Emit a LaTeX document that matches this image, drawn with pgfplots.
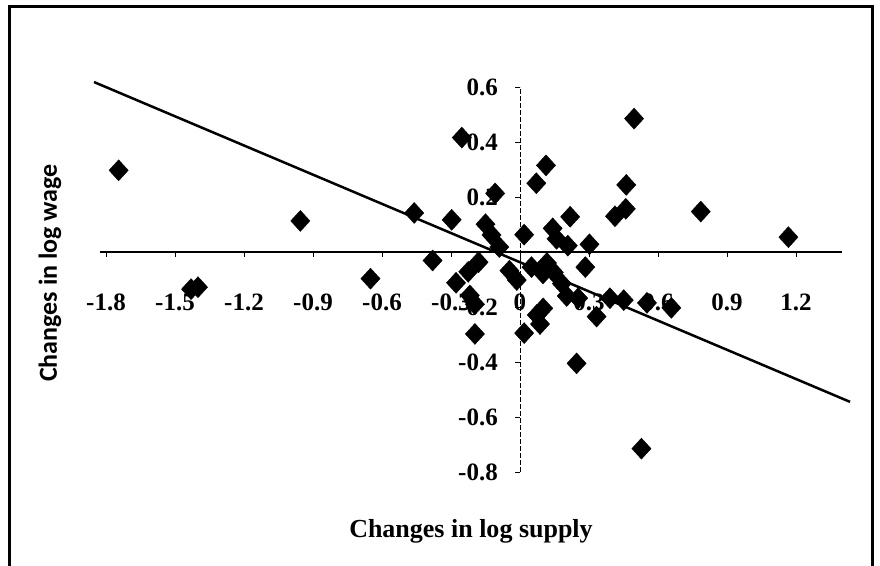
\documentclass[border=0pt]{standalone}
\usepackage{fontspec}
\setmainfont{Liberation Serif}
\newfontfamily\labsans{Carlito}
\usepackage{pgfplots}
\pgfplotsset{compat=1.18}

\begin{document}
\begin{tikzpicture}
\path[use as bounding box] (0,0) rectangle (880bp,566bp);
\draw[line width=3bp] (9bp,0) -- (9bp,559bp) -- (872bp,559bp) -- (872bp,0);
\begin{axis}[
    at={(100bp,94bp)}, anchor=south west,
    scale only axis,
    width=742bp, height=385bp,
    xmin=-1.826, xmax=1.4,
    ymin=-0.8, ymax=0.6,
    axis lines=middle,
    clip=false,
    hide obscured x ticks=false,
    hide obscured y ticks=false,
    x axis line style={line width=1.5bp, -},
    y axis line style={line width=0.7bp, dash pattern=on 5bp off 2bp, -},
    tick align=outside,
    major tick length=5bp,
    tick style={black, line width=0.7bp},
    xtick={-1.8,-1.5,-1.2,-0.9,-0.6,-0.3,0,0.3,0.6,0.9,1.2},
    ytick={-0.8,-0.6,-0.4,-0.2,0.2,0.4,0.6},
    /pgf/number format/assume math mode=true,
    /pgf/number format/fixed,
    /pgf/number format/precision=1,
    xticklabel style={font=\fontsize{25bp}{28bp}\selectfont\bfseries,
        anchor=center, inner sep=0pt, yshift=-45bp},
    yticklabel style={font=\fontsize{25bp}{28bp}\selectfont\bfseries,
        anchor=east, inner sep=0pt, xshift=-17bp},
    xlabel={Changes in log supply},
    ylabel={Changes in log wage},
    xlabel style={at={(rel axis cs:0.5,-0.153)}, anchor=center,
        font=\fontsize{26bp}{28bp}\selectfont\bfseries},
    ylabel style={at={(rel axis cs:-0.0674,0.517)}, anchor=center, rotate=90,
        font=\fontsize{26bp}{28bp}\selectfont\labsans\bfseries},
]
\addplot[only marks, mark=diamond*, mark size=10.5bp,
    mark options={xscale=1.22, draw=black, fill=black}] table {
-1.745 0.297
-1.43 -0.135
-1.40 -0.128
-0.955 0.113
-0.65 -0.097
-0.46 0.142
-0.38 -0.031
-0.297 0.117
-0.253 0.416
-0.108 0.213
-0.15 0.101
-0.124 0.062
-0.09 0.018
-0.18 -0.037
-0.225 -0.072
-0.278 -0.112
-0.218 -0.158
-0.196 -0.19
-0.196 -0.298
-0.046 -0.068
-0.014 -0.102
0.018 0.063
0.113 0.315
0.071 0.25
0.142 0.086
0.159 0.048
0.218 0.128
0.208 0.023
0.302 0.028
0.284 -0.055
0.05 -0.055
0.1 -0.078
0.117 -0.04
0.147 -0.074
0.182 -0.115
0.203 -0.16
0.253 -0.168
0.333 -0.235
0.391 -0.168
0.451 -0.175
0.552 -0.185
0.658 -0.203
0.073 -0.229
0.101 -0.205
0.087 -0.262
0.018 -0.295
0.246 -0.405
0.528 -0.715
0.496 0.485
0.462 0.244
0.46 0.157
0.413 0.13
0.786 0.147
1.167 0.054
};
% fitted line
\addplot[black, line width=2.5bp] coordinates {(-1.852,0.618) (1.435,-0.545)};
\end{axis}
\end{tikzpicture}
\end{document}
